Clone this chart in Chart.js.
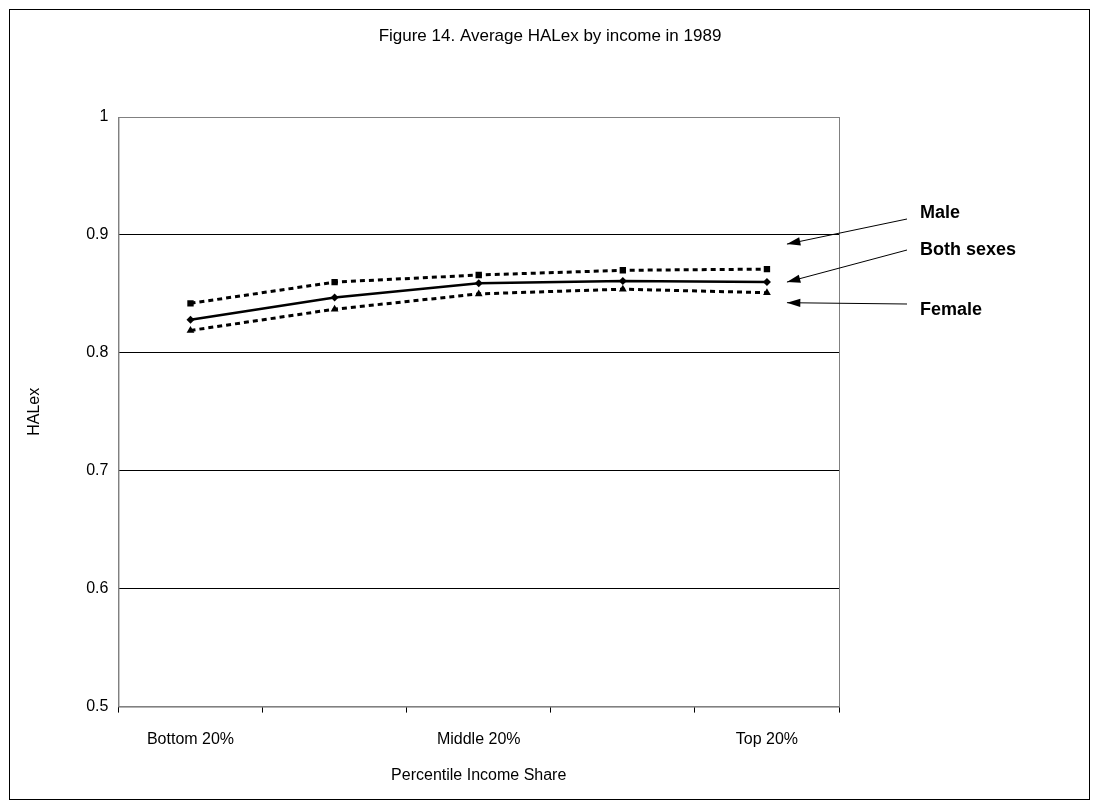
<!DOCTYPE html>
<html><head><meta charset="utf-8">
<script src="https://cdn.jsdelivr.net/npm/chart.js@4"></script>
<style>html,body{margin:0;background:#fff}</style></head>
<body><canvas id="c" width="1101" height="810"></canvas>
<script>
const categories=['Bottom 20%','','Middle 20%','','Top 20%'];
const male=[0.842,0.860,0.866,0.870,0.871];
const both=[0.828,0.847,0.859,0.861,0.860];
const female=[0.819,0.837,0.850,0.854,0.851];
const seriesLabels=['Male','Both sexes','Female'];
const titleText='Figure 14. Average HALex by income in 1989';

const deco={id:'deco',afterDraw(ch){
 const c=ch.ctx,a=ch.chartArea;
 c.save();
 c.strokeStyle='#000';c.lineWidth=1;
 c.strokeRect(9.5,9.5,1080,790);
 c.font='17px Arial, "Liberation Sans"';c.fillStyle='#000';c.textAlign='center';c.textBaseline='middle';
 c.fillText(titleText,550,36);
 c.textAlign='left';
 c.strokeStyle='#808080';c.strokeRect(a.left+0.5,a.top+0.5,a.right-a.left,a.bottom-a.top);
 c.strokeStyle='#000';
 const xs=ch.scales.x,ys=ch.scales.y;
 const px=xs.getPixelForValue(4);
 const pts=[[male[4],-25],[both[4],0],[female[4],10]];
 const ly=[a.top+96,a.top+133,a.top+193];
 c.font='bold 18px Arial, "Liberation Sans"';
 pts.forEach((p,i)=>{
  const tx=px+20,ty=ys.getPixelForValue(p[0])+p[1];
  const sy=ly[i];
  c.fillText(seriesLabels[i],920,sy);
  const ex=907, ey=sy+(i==0?6:(i==2?-6:0));
  c.beginPath();c.moveTo(ex,ey);c.lineTo(tx,ty);c.stroke();
  const ang=Math.atan2(ty-ey,tx-ex);
  c.beginPath();c.moveTo(tx,ty);
  c.lineTo(tx-14*Math.cos(ang-0.3),ty-14*Math.sin(ang-0.3));
  c.lineTo(tx-14*Math.cos(ang+0.3),ty-14*Math.sin(ang+0.3));c.closePath();c.fill();
 });
 c.restore();
}};
const ds=(label,data,style,dash)=>({label,data,borderColor:'#000',backgroundColor:'#000',borderWidth:dash?3:2.5,borderDash:dash?[5,4]:[],pointStyle:style,pointRadius:style==='rectRot'?4:4.5,pointBorderWidth:0,tension:0});
new Chart(document.getElementById('c'),{type:'line',
 data:{labels:categories,datasets:[ds('Male',male,'rect',true),ds('Both sexes',both,'rectRot',false),ds('Female',female,'triangle',true)]},
 options:{responsive:false,animation:false,
  layout:{padding:{left:21,right:262,top:117,bottom:25}},
  plugins:{legend:{display:false},tooltip:{enabled:false},title:{display:false}},
  scales:{
   x:{offset:true,grid:{offset:true,drawOnChartArea:false,color:'#000',tickLength:6},border:{color:'#808080'},
      ticks:{color:'#000',font:{family:'Arial, "Liberation Sans"',size:16},maxRotation:0,autoSkip:false,padding:17},
      title:{display:true,text:'Percentile Income Share',color:'#000',font:{family:'Arial, "Liberation Sans"',size:16},padding:{top:0,bottom:0}}},
   y:{min:0.5,max:1,ticks:{stepSize:0.1,color:'#000',font:{family:'Arial, "Liberation Sans"',size:16},padding:10,callback:v=>+v.toFixed(1)},
      grid:{color:'#000',tickLength:0},border:{color:'#808080'},
      title:{display:true,text:'HALex',color:'#000',font:{family:'Arial, "Liberation Sans"',size:16},padding:{bottom:32}}}
  }},plugins:[deco]});
</script></body></html>
